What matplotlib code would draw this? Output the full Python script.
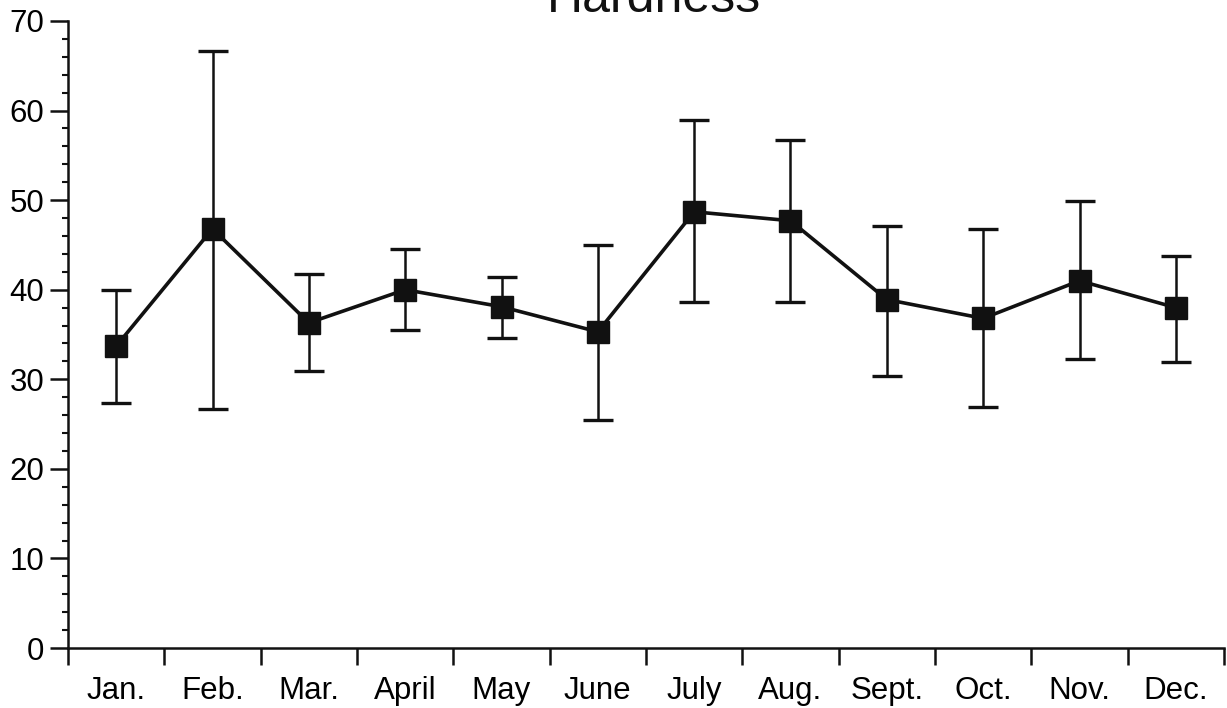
import matplotlib
matplotlib.use("Agg")
import matplotlib.pyplot as plt
from matplotlib.ticker import MultipleLocator, FixedLocator
import numpy as np

months = ["Jan.", "Feb.", "Mar.", "April", "May", "June", "July", "Aug.", "Sept.", "Oct.", "Nov.", "Dec."]
hardness = [33.7, 46.8, 36.3, 40.0, 38.1, 35.3, 48.7, 47.7, 38.9, 36.8, 41.0, 38.0]
upper = [40.0, 66.7, 41.8, 44.6, 41.4, 45.0, 58.9, 56.7, 47.1, 46.8, 49.9, 43.8]
lower = [27.4, 26.7, 30.9, 35.5, 34.6, 25.5, 38.6, 38.6, 30.4, 26.9, 32.3, 31.9]

plt.rcParams['font.family'] = ['Liberation Sans', 'DejaVu Sans']

fig = plt.figure(figsize=(12.27, 7.08), dpi=100)
ax = fig.add_axes([68/1227, 60/708, (1224-68)/1227, (648-21)/708])

x = np.arange(len(months))
h = np.array(hardness)
yerr = np.vstack([h - np.array(lower), np.array(upper) - h])
ax.errorbar(x, h, yerr=yerr, fmt='none', ecolor='#111111', elinewidth=1.8,
            capsize=11, capthick=2.4, zorder=2)
ax.plot(x, h, color='#111111', lw=2.6, marker='s', markersize=16.5,
        markerfacecolor='#111111', markeredgecolor='#111111', zorder=3)

ax.set_xlim(-0.5, 11.5)
ax.set_ylim(0, 70)
ax.set_xticks(x)
ax.set_xticklabels(months)
ax.xaxis.set_minor_locator(FixedLocator(np.arange(-0.5, 12, 1.0)))
ax.tick_params(axis='x', which='major', length=0, pad=20, labelsize=22.5)
ax.tick_params(axis='x', which='minor', length=12, width=1.8, direction='out', color='#111111')
ax.yaxis.set_major_locator(MultipleLocator(10))
ax.yaxis.set_minor_locator(MultipleLocator(2))
ax.tick_params(axis='y', which='major', length=13, width=1.8, direction='out', labelsize=22.5, pad=4, color='#111111')
ax.tick_params(axis='y', which='minor', length=4, width=1.5, direction='out', color='#111111')
for s in ['top', 'right']:
    ax.spines[s].set_visible(False)
for s in ['left', 'bottom']:
    ax.spines[s].set_linewidth(1.8)
    ax.spines[s].set_color('#111111')

fig.text(654/1227, (708-12)/708, "Hardness", ha='center', va='baseline', fontsize=36, color='#111111')

fig.savefig("out.png", dpi=100)
